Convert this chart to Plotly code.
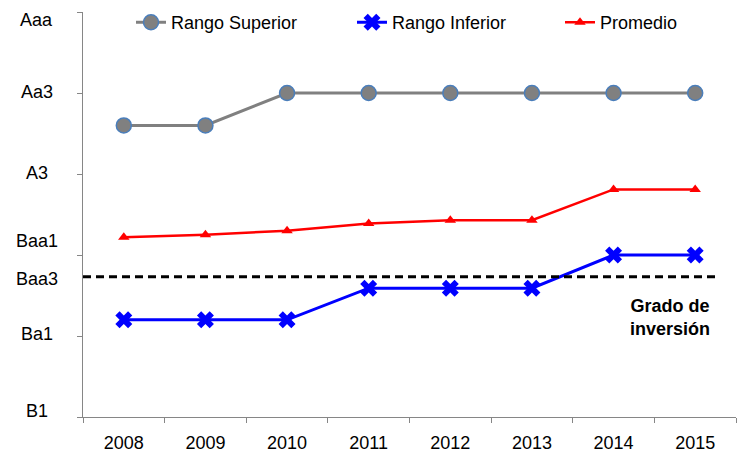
import plotly.graph_objects as go

years = ["2008", "2009", "2010", "2011", "2012", "2013", "2014", "2015"]
rango_superior = [3.60, 3.60, 4.0, 4.0, 4.0, 4.0, 4.0, 4.0]
rango_inferior = [1.20, 1.20, 1.20, 1.59, 1.59, 1.59, 2.0, 2.0]
promedio = [2.22, 2.25, 2.30, 2.39, 2.43, 2.43, 2.81, 2.81]

rating_labels = ["Aaa", "Aa3", "A3", "Baa1", "Baa3", "Ba1", "B1"]
rating_pos = [4.90, 4.01, 3.01, 2.17, 1.70, 1.03, 0.07]

investment_grade = 1.73

FONT = "Liberation Sans, Arial, sans-serif"
L, R, T, B = 83, 4, 9, 35
PW = 740 - L - R
PH = 452 - T - B


def px_x(px):
    return (px - L) / PW


fig = go.Figure()
fig.add_trace(go.Scatter(
    x=years, y=rango_superior, name="Rango Superior", mode="lines+markers",
    line=dict(color="#808080", width=3),
    marker=dict(symbol="circle", size=15, color="#808080",
                line=dict(color="#4A7EBB", width=1.5)),
    legend="legend",
))
fig.add_trace(go.Scatter(
    x=years, y=rango_inferior, name="Rango Inferior", mode="lines+markers",
    line=dict(color="#0000FF", width=3),
    marker=dict(symbol="x", size=15, color="#0000FF",
                line=dict(color="#0000FF", width=0)),
    legend="legend2",
))
fig.add_trace(go.Scatter(
    x=years, y=promedio, name="Promedio", mode="lines+markers",
    line=dict(color="#FF0000", width=2.5),
    marker=dict(symbol="triangle-up", size=10, color="#FF0000"),
    legend="legend3",
))

# investment grade threshold
fig.add_shape(type="line", xref="paper", yref="y",
              x0=0, x1=px_x(715), y0=investment_grade, y1=investment_grade,
              line=dict(color="black", width=3, dash="8px,5px"))

fig.add_annotation(text="<b>Grado de<br>inversión</b>", xref="paper", yref="y",
                   x=px_x(670), y=investment_grade - 0.50,
                   showarrow=False, xanchor="center", yanchor="middle",
                   font=dict(family=FONT, size=18, color="black"))

for lab, pos in zip(rating_labels, rating_pos):
    fig.add_annotation(text=lab, xref="paper", yref="y",
                       x=px_x(36.5), y=pos, showarrow=False,
                       xanchor="center", yanchor="middle",
                       font=dict(family=FONT, size=18, color="black"))

leg_common = dict(orientation="h", xanchor="left",
                  y=1 + 8.0 / PH, yanchor="top",
                  font=dict(family=FONT, size=18, color="black"),
                  bgcolor="rgba(0,0,0,0)", itemwidth=30)

fig.update_layout(
    width=740, height=452,
    margin=dict(l=L, r=R, t=T, b=B),
    paper_bgcolor="white", plot_bgcolor="white",
    font=dict(family=FONT, size=18, color="black"),
    showlegend=True,
    legend=dict(x=px_x(131), **leg_common),
    legend2=dict(x=px_x(352), **leg_common),
    legend3=dict(x=px_x(560), **leg_common),
    xaxis=dict(type="category", range=[-0.5, 7.5], showgrid=False,
               showline=True, linecolor="#868686", linewidth=1,
               ticks="outside", ticklen=5, tickcolor="#868686",
               tickson="boundaries", tickfont=dict(size=18),
               ticklabelstandoff=9, automargin=False),
    yaxis=dict(range=[0, 5], dtick=1, tick0=0, showgrid=False, zeroline=False,
               showline=True, linecolor="#868686", linewidth=1,
               ticks="outside", ticklen=5, tickcolor="#868686",
               showticklabels=False, automargin=False),
)

fig.write_html("out.html", config={"displayModeBar": False},
               post_script="document.body.style.margin='0';document.body.style.overflow='hidden';")
